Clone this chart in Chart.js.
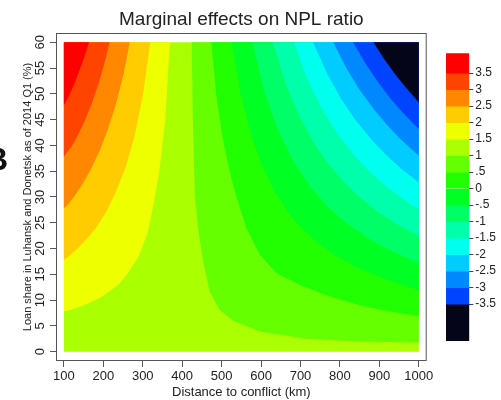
<!DOCTYPE html>
<html lang="en">
<head>
    <meta charset="UTF-8">
    <title>Marginal effects on NPL ratio</title>
    <script src="https://cdn.jsdelivr.net/npm/chart.js"></script>
    <style>
        body { margin: 0; background: #fff; }
        #wrap { position: relative; width: 501px; height: 400px; overflow: hidden; }
        #plotBox { position: absolute; left: 0; top: 0; width: 501px; height: 400px; }
        #barBox { position: absolute; left: 440px; top: 40px; width: 61px; height: 320px; }
        #panel { position: absolute; left: -15px; top: 143px; font: bold 32px 'Liberation Sans', Arial, sans-serif; line-height: 1; color: #111; }
    </style>
</head>
<body>
<div id="wrap">
    <div id="plotBox"><canvas id="contour"></canvas></div>
    <div id="barBox"><canvas id="colorbar"></canvas></div>
    <div id="panel">B</div>
</div>

<script>
    // axis ticks
    const xTicks = [100, 200, 300, 400, 500, 600, 700, 800, 900, 1000];
    const yTicks = [0, 5, 10, 15, 20, 25, 30, 35, 40, 45, 50, 55, 60];

    // contour levels (top to bottom of the legend) and their labels
    const levels = [3.5, 3, 2.5, 2, 1.5, 1, 0.5, 0, -0.5, -1, -1.5, -2, -2.5, -3, -3.5];
    const levelLabels = ['3.5', '3', '2.5', '2', '1.5', '1', '.5', '0', '-.5', '-1', '-1.5', '-2', '-2.5', '-3', '-3.5'];
    const zRange = [-4.62, 4.1];

    // extent of the estimated grid
    const distRange = [100, 1000];
    const shareRange = [0, 60];

    // level lines: [distance, loan share]
    const line35 = [[164, 60], [151, 57], [137, 54], [121, 51], [109, 49], [100, 47.8]];
    const line30 = [[216, 60], [203, 56], [188, 52], [170, 48], [154, 45], [136, 42], [121, 40], [100, 37.8]];
    const line25 = [[267, 60], [252, 54], [232, 48], [211, 43], [191, 39], [166, 35], [143, 32], [125, 30], [110, 28.5], [100, 27.8]];
    const line20 = [[319, 60], [301, 50], [280, 42], [258, 36], [232, 31], [207, 27], [181, 24], [160, 22], [135, 20], [113, 18.5], [100, 17.8]];
    const line15 = [[369, 60], [357, 45], [342, 35], [326, 28], [312, 23], [290, 18.5], [265, 15.5], [242, 13.3], [215, 11.7], [191, 10.4], [165, 9.5], [141, 8.7], [120, 8.2], [100, 7.8]];
    const line10 = [[424, 60], [427, 45], [432, 30.4], [440, 24], [453, 17.5], [470, 11.6], [495, 8.1], [529, 6], [597, 3.9], [711, 2.5], [850, 2.0], [1000, 1.8]];
    const line05 = [[474, 60], [486, 50], [501, 42], [520, 35], [536, 30.4], [563, 23.9], [597, 18.8], [639, 15.2], [700, 12.9], [770, 10.8], [850, 9.0], [925, 7.8], [1000, 6.9]];
    const line00 = [[525, 60], [548, 50], [575, 42], [603, 36], [635, 31], [669, 27], [702, 24], [745, 21], [791, 18.5], [839, 16.5], [883, 15], [937, 13.5], [1000, 11.9]];
    const lineM05 = [[578, 60], [610, 50], [643, 43], [681, 37], [725, 32], [770, 28], [815, 25], [871, 22], [918, 20], [961, 18.5], [1000, 17.1]];
    const lineM10 = [[630, 60], [662, 52], [695, 46], [730, 41], [765, 37], [809, 33], [849, 30], [899, 27], [939, 25], [974, 23.5], [1000, 22.4]];
    const lineM15 = [[684, 60], [716, 53], [755, 47], [796, 42], [837, 38], [874, 35], [919, 32], [953, 30], [982, 28.5], [1000, 27.6]];
    const lineM20 = [[732, 60], [767, 54], [803, 49], [839, 45], [881, 41], [919, 38], [955, 35.5], [980, 34], [1000, 32.8]];
    const lineM25 = [[783, 60], [816, 55], [848, 51], [886, 47], [919, 44], [950, 41.5], [978, 39.5], [1000, 38]];
    const lineM30 = [[833, 60], [864, 56], [899, 52], [929, 49], [958, 46.5], [983, 44.5], [1000, 43.2]];
    const lineM35 = [[885, 60], [910, 57], [938, 54], [964, 51.5], [987, 49.5], [1000, 48.3]];

    const contourLines = [line35, line30, line25, line20, line15, line10, line05, line00,
        lineM05, lineM10, lineM15, lineM20, lineM25, lineM30, lineM35];

    // band colours, highest band first
    const bandColors = ['#ff0000', '#ff4400', '#ff8800', '#ffcc00', '#eeff00', '#aaff00', '#66ff00', '#22ff00',
        '#00ff22', '#00ff66', '#00ffaa', '#00ffee', '#00ccff', '#0088ff', '#0044ff', '#05051a'];

    const fontFamily = "'Liberation Sans', Arial, sans-serif";
    Chart.defaults.font.family = fontFamily;
    Chart.defaults.color = '#222';

    // paint order: whole grid, then the upper-left hills, then the upper-right valleys
    const split = contourLines.findIndex(c => c[c.length - 1][0] === distRange[1]);
    const layers = [{
        pts: [[distRange[0], shareRange[0]], [distRange[1], shareRange[0]], [distRange[1], shareRange[1]], [distRange[0], shareRange[1]]],
        color: bandColors[split]
    }];
    for (let i = split - 1; i >= 0; i--) {
        layers.push({pts: contourLines[i].concat([[distRange[0], shareRange[1]]]), color: bandColors[i]});
    }
    for (let i = split; i < levels.length; i++) {
        layers.push({pts: contourLines[i].concat([[distRange[1], shareRange[1]]]), color: bandColors[i + 1]});
    }

    const frame = {
        id: 'frame',
        afterDatasetsDraw(chart) {
            const {ctx, chartArea: a} = chart;
            ctx.save();
            ctx.strokeStyle = '#555';
            ctx.lineWidth = 1;
            ctx.strokeRect(a.left + 0.5, a.top + 0.5, a.width - 1, a.height - 1);
            ctx.restore();
        }
    };

    const contourChart = new Chart(document.getElementById('contour'), {
        type: 'scatter',
        data: {
            datasets: layers.map((l, i) => ({
                data: l.pts.map(([x, y]) => ({x, y})),
                showLine: true,
                fill: 'shape',
                backgroundColor: l.color,
                borderColor: 'rgba(0,0,0,0)',
                borderWidth: 0,
                pointRadius: 0,
                tension: 0,
                order: layers.length - i
            }))
        },
        options: {
            responsive: true,
            maintainAspectRatio: false,
            animation: false,
            events: [],
            layout: {padding: {left: 0, top: 0, right: 74.3, bottom: 0}},
            plugins: {
                legend: {display: false},
                tooltip: {enabled: false},
                title: {
                    display: true,
                    text: 'Marginal effects on NPL ratio',
                    fullSize: false,
                    color: '#222',
                    font: {size: 19, weight: 'normal'},
                    padding: {top: 8.6, bottom: 1.6}
                }
            },
            scales: {
                x: {
                    type: 'linear',
                    min: 80,
                    max: 1020,
                    afterFit: s => { s.height = 39; },
                    afterBuildTicks: s => { s.ticks = xTicks.map(v => ({value: v})); },
                    ticks: {autoSkip: false, maxRotation: 0, padding: 2, font: {size: 13}, callback: v => String(v)},
                    grid: {drawOnChartArea: false, tickLength: 6, tickColor: '#555'},
                    border: {display: false},
                    title: {display: true, text: 'Distance to conflict (km)', font: {size: 13, lineHeight: 1}, padding: {top: 0, bottom: 1}}
                },
                y: {
                    type: 'linear',
                    min: -1.8,
                    max: 61.8,
                    afterFit: s => { s.width = 56; },
                    afterBuildTicks: s => { s.ticks = yTicks.map(v => ({value: v})); },
                    ticks: {autoSkip: false, minRotation: 90, maxRotation: 90, crossAlign: 'center', padding: 2, font: {size: 13}, callback: v => String(v)},
                    grid: {drawOnChartArea: false, tickLength: 6, tickColor: '#555'},
                    border: {display: false},
                    title: {display: true, text: 'Loan share in Luhansk and Donetsk as of 2014 Q1 (%)', font: {size: 11, lineHeight: 1}, padding: {top: 22, bottom: 0}}
                }
            }
        },
        plugins: [frame]
    });
    contourChart.update();

    // colour legend
    const bandEdges = [zRange[1]].concat(levels, [zRange[0]]);
    new Chart(document.getElementById('colorbar'), {
        type: 'bar',
        data: {
            labels: [''],
            datasets: bandColors.map((c, i) => ({
                data: [[bandEdges[i + 1], bandEdges[i]]],
                backgroundColor: c,
                borderWidth: 0,
                grouped: false,
                barPercentage: 1,
                categoryPercentage: 1
            }))
        },
        options: {
            responsive: true,
            maintainAspectRatio: false,
            animation: false,
            events: [],
            layout: {padding: {left: 6, top: 13.3, right: 0, bottom: 19}},
            plugins: {legend: {display: false}, tooltip: {enabled: false}},
            scales: {
                x: {display: false},
                y: {
                    position: 'right',
                    min: zRange[0],
                    max: zRange[1],
                    afterFit: s => { s.width = 31.7; },
                    afterBuildTicks: s => { s.ticks = levels.map(v => ({value: v})); },
                    ticks: {
                        autoSkip: false,
                        padding: 2,
                        font: {size: 12},
                        callback: v => levelLabels[levels.indexOf(v)]
                    },
                    grid: {drawOnChartArea: false, tickLength: 4, tickColor: '#444'},
                    border: {display: false}
                }
            }
        }
    });
</script>
</body>
</html>
